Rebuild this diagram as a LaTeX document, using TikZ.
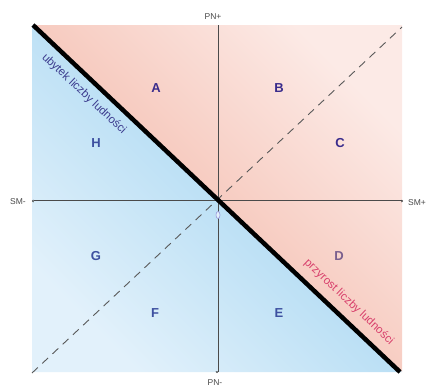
\documentclass[tikz,border=0pt]{standalone}
\usepackage{fontspec}
\setmainfont{Liberation Sans}
\usetikzlibrary{arrows.meta,calc}

\definecolor{redlight}{HTML}{FCEAE6}
\definecolor{reddark}{HTML}{F7CCC1}
\definecolor{bluelight}{HTML}{E2F1FB}
\definecolor{bluedark}{HTML}{BCE0F5}
\definecolor{letterred}{HTML}{3A2C8C}
\definecolor{letterblue}{HTML}{3D50A0}
\definecolor{letterD}{HTML}{7A5F8E}
\definecolor{axisgray}{HTML}{4A4A4A}
\definecolor{lossblue}{HTML}{3C3C8E}
\definecolor{gainred}{HTML}{D8406C}

\begin{document}
\begin{tikzpicture}[x=1pt, y=-1pt,
  axis/.style={draw=axisgray, line width=0.9pt},
  border/.style={draw=black, line width=4.5pt},
  split/.style={draw=black!65, line width=0.9pt, dash pattern=on 8pt off 6pt},
  sector/.style={font=\fontsize{13}{15}\selectfont\bfseries, inner sep=0pt},
  axislabel/.style={font=\fontsize{8.5}{10}\selectfont, text=axisgray, inner sep=0pt},
  trend/.style={font=\fontsize{11.5}{13}\selectfont, inner sep=0pt, rotate=-43.4}
]
\useasboundingbox (0,0) rectangle (427,388);

% corners of the field
\coordinate (tl) at (32,25);
\coordinate (tr) at (402,25);
\coordinate (br) at (402,372);
\coordinate (bl) at (32,372);

% shaded halves
\shade[top color=redlight, bottom color=reddark, middle color=reddark, shading angle=-45] (tl) -- (tr) -- (br) -- cycle;
\shade[top color=bluedark, bottom color=bluelight, middle color=bluedark, shading angle=-45] (tl) -- (br) -- (bl) -- cycle;

% dashed split line
\coordinate (dbl) at (32,373);
\coordinate (dtr) at (402,27);
\draw[split] (dbl) -- (dtr);

% axes
\coordinate (smminus) at (32,200);
\coordinate (smplus) at (403,200);
\coordinate (pnplus) at (218,25);
\coordinate (pnminus) at (218,373);
\draw[axis, {Hooks[left,length=1.5pt,width=5pt]}-{Hooks[right,length=1.5pt,width=5pt]}] (smminus) -- (smplus);
\draw[axis, -{Hooks[right,length=1.5pt,width=5pt]}] (pnplus) -- (pnminus);
\draw[draw=black!35!blue!40, fill=bluelight, line width=0.6pt] (218,215) ellipse (2 and 3.5);

% population line
\coordinate (dtl) at (33,25);
\coordinate (dbr) at (400,372);
\draw[border] (dtl) -- (dbr);

% axis labels
\node[axislabel] (PNp) at (213,17) {PN+};
\node[axislabel] (PNm) at (215,383) {PN-};
\node[axislabel] (SMm) at (18,202) {SM-};
\node[axislabel] (SMp) at (417,203) {SM+};

% sectors
\node[sector, text=letterred] (A) at (156,88) {A};
\node[sector, text=letterred] (B) at (279,88) {B};
\node[sector, text=letterred] (C) at (340,143) {C};
\node[sector, text=letterD] (D) at (339,256) {D};
\node[sector, text=letterblue] (E) at (279,313) {E};
\node[sector, text=letterblue] (F) at (155,313) {F};
\node[sector, text=letterblue] (G) at (96,256) {G};
\node[sector, text=letterblue] (H) at (96,143) {H};

% trend labels
\node[trend, text=lossblue] (loss) at (84,94) {ubytek liczby ludności};
\node[trend, text=gainred] (gain) at (349,302) {przyrost liczby ludności};

\end{tikzpicture}
\end{document}
